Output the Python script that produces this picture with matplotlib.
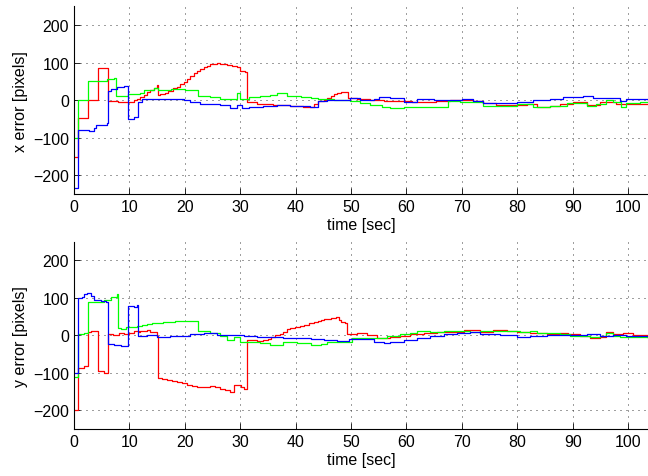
import numpy as np
import matplotlib
matplotlib.use("Agg")
import matplotlib.pyplot as plt

plt.rcParams['font.family'] = ['Liberation Sans', 'DejaVu Sans']

tx_red = [0, 0.7, 2.5, 4.3, 6.1, 8, 10, 10.8, 11.4, 12, 12.6, 13.2, 13.8, 14.4, 14.9, 15.1, 15.6, 16.5, 17, 17.9,
          18.5, 19.2, 19.8, 20.4, 21, 21.6, 22.2, 22.8, 23.4, 24, 24.6, 25.2, 25.8, 26.4, 27, 27.7, 28.5, 29.4, 30, 30.9,
          31.2, 33, 36, 39, 41.4, 42.4, 43.3, 44, 45.1, 45.7, 46.3, 46.9, 47.5, 48.1, 49.4, 51, 53.5, 55.9, 58.9, 61,
          63.7, 65.4, 67.8, 70, 72, 73.8, 76.2, 79.8, 81.7, 83.5, 85.9, 87.7, 90, 92.5, 93.7, 94.9, 96.4, 97.9, 99.7,
          102.1, 103.6]
x_red = [-151, -47, 0, 86, -3, -5, -4, 0, 4, 9, 14, 21, 27, 33, 40, 13, 15, 20, 24, 31,
         36, 42, 49, 57, 65, 72, 78, 84, 88, 92, 95, 97, 98, 97, 96, 94, 91, 88, 78, 75,
         -4, -9, -12, -15, -17, -17, -10, -2, 0, 5, 10, 16, 19, 22, 5, 3, 0, -2, -3, -4,
         -6, -3, 0, 1, -2, -8, -13, -12, -11, -17, -15, -11, -6, -12, -14, -5, -4, -9, -9,
         -11, -11]

tx_green = [0, 0.7, 2.5, 6, 7.2, 7.6, 9.8, 11, 12, 12.6, 13.9, 14.5, 15.2, 17.5, 20, 21.6, 22.3, 24.6, 26.4, 27.9,
            29.4, 30, 31.5, 33.5, 35.4, 36.6, 38.5, 40.9, 42.7, 44, 46.9, 49.9, 51.7, 53.5, 55.5, 57.1, 59.5, 63.1, 67.5,
            69.6, 72, 73.8, 77.4, 80, 82.9, 85.9, 88.9, 91.3, 92.5, 94.3, 96.1, 97.3, 98.8, 99.7, 102.1, 103.6]
x_green = [-101, 0, 51, 56, 58, 11, 16, 17, 18, 26, 28, 33, 28, 30, 28, 28, 10, 7, 3, 4,
           18, 4, 7, 10, 13, 18, 10, 9, 5, 3, 0, -2, -8, -14, -17, -20, -17, -17, -3,
           -5, -6, -15, -15, -11, -17, -15, -8, -8, -15, -11, 1, -6, -17, -8, -6, -6]

tx_blue = [0, 0.7, 2.7, 3.6, 3.9, 5.1, 5.9, 6.1, 6.6, 7.8, 9, 9.7, 10.8, 11.6, 12.3, 15.6, 17.4, 19.8, 21, 22.8,
           26.4, 28.2, 29.4, 30.3, 31.5, 34.2, 36.6, 39, 42.6, 44, 45.7, 49.9, 51.7, 54.1, 55, 57.1, 59.5, 61.9, 64.9,
           70, 72, 73.8, 77.4, 80, 82.9, 85.9, 88.3, 91.9, 93.7, 96.1, 98.5, 99.7, 103.6]
x_blue = [-234, -80, -83, -74, -67, -65, -62, 24, 29, 35, 38, -51, -44, -4, 3, 4, 2, 0, -4, -9,
          -13, -20, -14, -22, -18, -15, -12, -15, -18, -2, 1, 5, 1, 3, 9, 5, -4, 3, 0,
          3, -2, -8, -8, -5, 0, 3, 7, 10, 5, 5, -2, 3, 0]

# y error traces
ty_red = [0, 0.7, 1.8, 2.5, 3.0, 4.4, 5.4, 6.2, 7, 8.1, 9, 9.9, 10.8, 11.7, 12, 13.2, 13.8, 14.9, 15.1, 15.8,
          16.8, 17.7, 18.6, 19.5, 20.4, 21.3, 22.2, 23.4, 24.6, 25.5, 26.4, 27.3, 28.2, 28.8, 29.7, 30.2, 30.6, 31.3, 33,
          34.2, 35, 35.6, 36.2, 37.2, 37.8, 38.4, 39, 39.9, 40.8, 41.6, 42.4, 43.3, 44, 44.5, 45.2, 46.3, 46.8, 47.2,
          47.8, 48.1, 49, 49.3, 51.1, 52.9, 54.7, 57.1, 58.9, 60.7, 63.1, 65.5, 67.9, 70.3, 73.3, 75.7, 78.1, 80, 82.3,
          85.3, 87.7, 89.2, 91.3, 93.1, 94.9, 96.1, 97.3, 99.1, 100.9, 103.6]
y_red = [-200, -86, -83, 9, 12, -96, -100, 4, 2, 6, 4, 6, 11, 9, 12, 13, 8, -2, -114, -117,
         -120, -122, -124, -128, -132, -135, -138, -137, -136, -139, -142, -146, -151, -133, -132, -138, -144, -13, -15,
         -13, -9, -4, 0, 4, 10, 16, 20, 23, 25, 28, 32, 36, 39, 41, 44, 47, 45, 48,
         42, 35, 32, 3, 5, 1, -6, -4, -1, 3, 5, 8, 10, 13, 10, 13, 12, 10, 7,
         3, 7, 3, -2, -6, -4, 10, 3, 5, 1, -1]

ty_green = [0, 0.7, 1.8, 2.5, 3.6, 5.4, 6.6, 7.7, 7.9, 8.4, 9.3, 10.2, 11.4, 12.3, 13.2, 14, 15, 16, 17.4, 18.3,
            19.2, 20.5, 21.5, 22.3, 24.6, 26.4, 27.6, 28.8, 30, 33.6, 35.4, 37.8, 40.2, 42.7, 44.5, 45.7, 49.6, 50.2,
            56.5, 58.9, 60.7, 61.9, 64.3, 66.7, 69.1, 71.5, 73.3, 80.5, 82.3, 83.5, 87.7, 89.5, 93.1, 94.9, 96.1, 97.3,
            98.5, 103.6]
y_green = [-111, 4, 7, 89, 90, 95, 102, 111, 20, 16, 22, 22, 25, 28, 31, 33, 34, 35, 36, 37,
           38, 38, 37, 11, 7, -2, -13, -4, -18, -20, -27, -18, -20, -25, -22, -19, -17, -6,
           -1, 3, 5, 12, 10, 12, 11, 10, 12, 10, 12, 7, 3, -1, -4, -1, 5, -1,
           -5, -6]

ty_blue = [0, 0.7, 1.5, 1.8, 2.4, 3.0, 3.6, 4.8, 5.7, 6.1, 6.2, 7.2, 8.4, 9.8, 10.8, 11.4, 11.6, 13.2, 15, 17.4,
           19.8, 21, 23.4, 25.8, 30.6, 33, 37.8, 42.7, 45.1, 47.5, 49.6, 54.1, 55.9, 57.1, 59.5, 61.9, 64.3, 66.7, 69.1,
           71.5, 73.3, 76.9, 80, 82.3, 85.3, 90.1, 92.5, 94.9, 97.3, 99.7, 103.6]
y_blue = [-100, 100, 102, 111, 114, 105, 93, 92, 89, 86, -22, -25, -28, 78, 76, 80, -2, 0, -4, -2,
          -1, 4, 6, 2, -3, -4, -7, -9, -12, -15, -10, -19, -21, -18, -12, -6, -1, 3, 7,
          8, 3, 1, -4, -2, 1, 0, 3, -1, 0, -1, -3]

fig = plt.figure(figsize=(6.48, 4.77), dpi=100)
ax1 = fig.add_axes([0.1142, 0.5912, 0.8858, 0.3936])
ax2 = fig.add_axes([0.1142, 0.0985, 0.8858, 0.3931])

panels = [
    (ax1, [(tx_red, x_red, 'red'), (tx_green, x_green, 'lime'), (tx_blue, x_blue, 'blue')], 'x error [pixels]'),
    (ax2, [(ty_red, y_red, 'red'), (ty_green, y_green, 'lime'), (ty_blue, y_blue, 'blue')], 'y error [pixels]'),
]

for ax, series, ylab in panels:
    for t, v, c in series:
        ax.plot(t, v, color=c, lw=0.9, drawstyle='steps-post')
    ax.set_xlim(0, 103.6)
    ax.set_ylim(-250, 250)
    ax.set_xticks(np.arange(0, 101, 10))
    ax.set_yticks([-200, -100, 0, 100, 200])
    ax.grid(True, color='0.1', linestyle=(0, (1.2, 6)), linewidth=0.6)
    ax.spines['top'].set_visible(False)
    ax.spines['right'].set_visible(False)
    ax.spines['left'].set_linewidth(0.8)
    ax.spines['bottom'].set_linewidth(0.8)
    ax.tick_params(direction='in', length=4, width=0.6, labelsize=11.5)
    ax.set_xlabel('time [sec]', fontsize=11.5, labelpad=2)
    ax.set_ylabel(ylab, fontsize=11.5, labelpad=4)

fig.savefig('out.png', dpi=100)
